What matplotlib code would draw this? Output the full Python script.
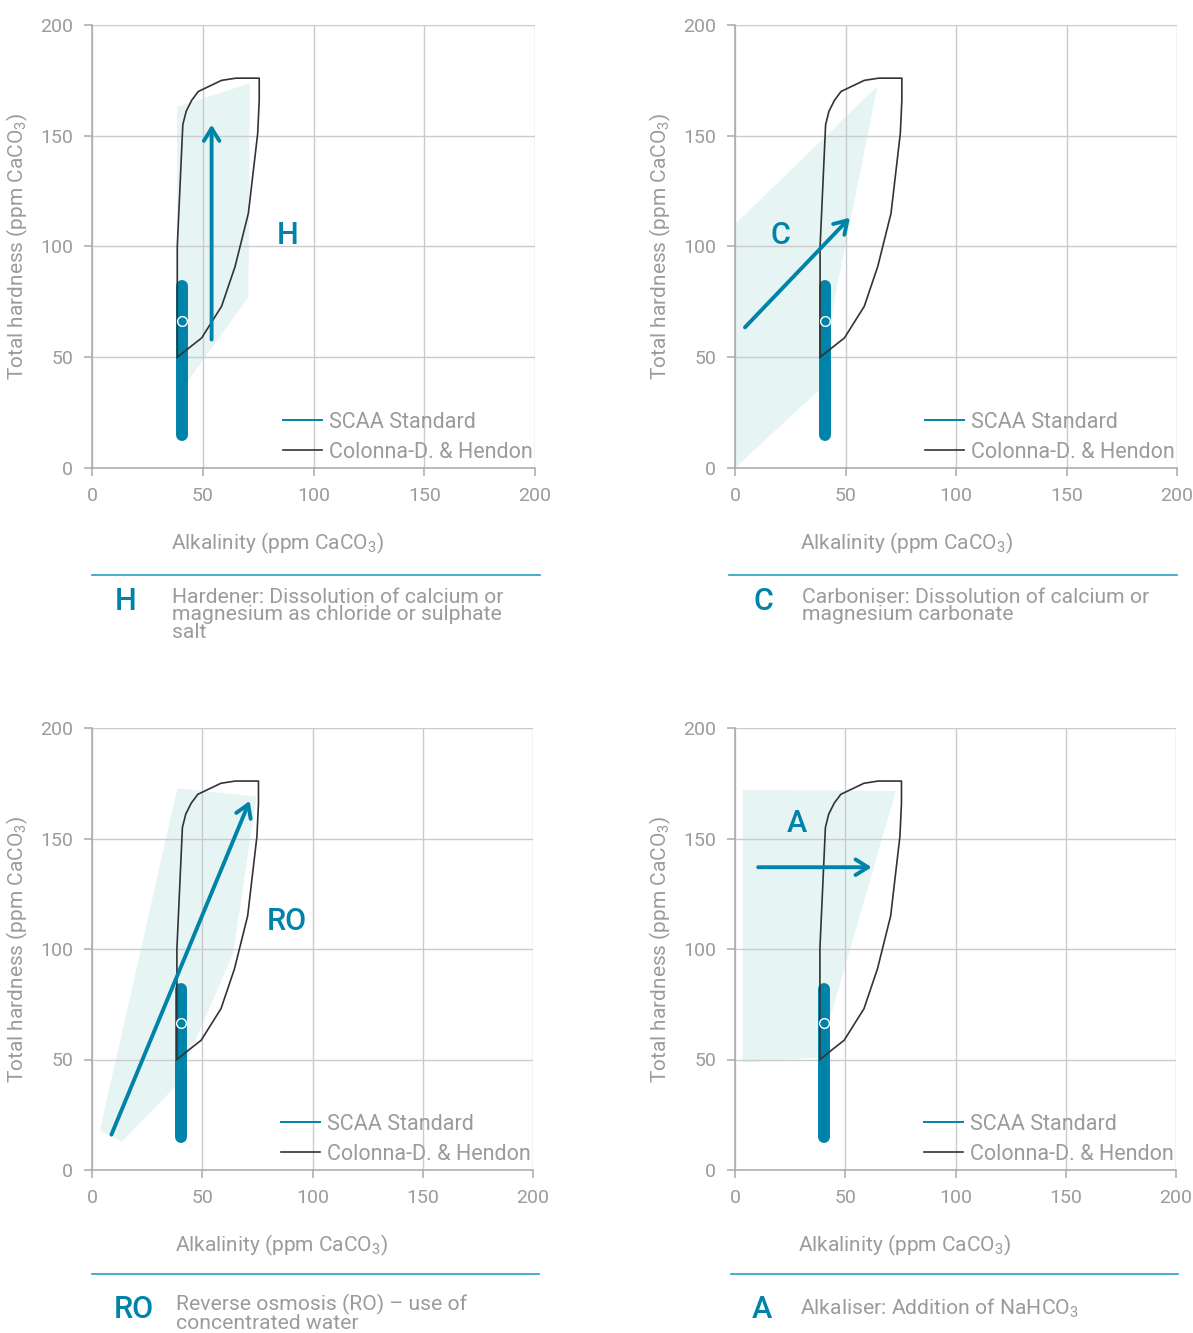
import matplotlib
matplotlib.use('Agg')
import matplotlib.pyplot as plt
from matplotlib.lines import Line2D

plt.rcParams['font.family'] = ['Roboto', 'DejaVu Sans']
plt.rcParams['mathtext.default'] = 'regular'

# colours
teal = '#0083a8'
shade = '#e7f4f4'
grid_col = '#cbcbcf'
spine_col = '#a9a9ad'
text_col = '#9b9b9b'
rule_col = '#26a0c2'

# ---- data (ppm CaCO3) ----
# Colonna-Dallacco & Hendon zone, same in every panel
outline_x = [38.5, 38.5, 41, 42.5, 45, 48, 58.5, 65, 75.5, 75.5, 74.8, 70.6, 64.6, 58.5, 49.5, 43.5, 38.5]
outline_y = [50, 100, 155, 161, 166, 170, 175, 176, 176, 166, 151, 115, 91, 73, 58.7, 54, 50]

# SCAA standard bar + target point
scaa_x = [40.5, 40.5]
scaa_y = [15, 82]
target_x = [40.5]
target_y = [66.5]

letters = ['H', 'C', 'RO', 'A']
descriptions = [
    'Hardener: Dissolution of calcium or\nmagnesium as chloride or sulphate\nsalt',
    'Carboniser: Dissolution of calcium or\nmagnesium carbonate',
    'Reverse osmosis (RO) \u2013 use of\nconcentrated water',
    'Alkaliser: Addition of NaHCO$_3$',
]

shade_x = [
    [38.4, 71.3, 70.6, 43.5, 38.4],
    [0, 0, 64.5, 45, 40],
    [3.6, 38.7, 74.7, 64, 38, 13.5],
    [3.5, 3.5, 73, 38],
]
shade_y = [
    [163, 173.7, 77, 39.7, 40],
    [0, 110, 172.5, 76, 37],
    [18, 172.7, 169, 98, 38, 12.8],
    [48.5, 172, 171.5, 51],
]

arrow_tail = [(54, 58), (4.5, 63.5), (8.8, 16), (10.5, 137)]
arrow_tip = [(54, 155), (52, 113), (71.5, 167), (62, 137)]
letter_pos = [(88.5, 105), (20.5, 105), (88.5, 112.5), (28, 157)]

ticks = [0, 50, 100, 150, 200]

# ---- layout in pixels ----
W, H = 1193, 1333
axes_px = [(92, 25, 535, 468), (735, 25, 1177, 468),
           (92, 728, 533, 1170), (735, 728, 1176, 1170)]
xlabel_x = [0.418, 0.389, 0.43, 0.385]
rule_px = [(92, 540, 575), (729, 1177, 575), (92, 539, 1274), (731, 1178, 1274)]
big_letter_px = [(126, 601), (763, 601), (134, 1310), (762, 1310)]
desc_px = [(172, 597), (802, 597), (176, 1303), (800, 1306)]

fig = plt.figure(figsize=(W / 100, H / 100), dpi=100)

for i in range(4):
    l, t, r, b = axes_px[i]
    ax = fig.add_axes([l / W, 1 - b / H, (r - l) / W, (b - t) / H])
    ax.set_xlim(0, 200)
    ax.set_ylim(0, 200)
    ax.set_xticks(ticks)
    ax.set_yticks(ticks)
    ax.set_axisbelow(True)
    ax.grid(True, color=grid_col, lw=1.0)
    for s in ['top', 'right']:
        ax.spines[s].set_visible(False)
    for s in ['left', 'bottom']:
        ax.spines[s].set_color(spine_col)
        ax.spines[s].set_linewidth(1.1)
    ax.tick_params(length=5.5, width=1.1, color=spine_col, labelcolor=text_col,
                   labelsize=14, pad=8)

    ax.set_xlabel('Alkalinity (ppm CaCO$_3$)', fontsize=15, color=text_col)
    ax.xaxis.set_label_coords(xlabel_x[i], -0.142)
    ax.set_ylabel('Total hardness (ppm CaCO$_3$)', fontsize=15, color=text_col)
    ax.yaxis.set_label_coords(-0.14, 0.5)

    ax.fill(shade_x[i], shade_y[i], color=shade, lw=0, zorder=0.3)
    ax.plot(scaa_x, scaa_y, color=teal, lw=8.6, solid_capstyle='round', zorder=2)
    ax.plot(outline_x, outline_y, color='#333333', lw=1.2, zorder=3)
    ax.plot(target_x, target_y, 'o', ms=7, mfc='none', mec='white', mew=1.0, zorder=4)
    ax.annotate('', xy=arrow_tip[i], xytext=arrow_tail[i],
                arrowprops=dict(arrowstyle='->, head_length=0.45, head_width=0.28',
                                color=teal, lw=2.8, shrinkA=0, shrinkB=0,
                                mutation_scale=20),
                zorder=5)
    ax.text(letter_pos[i][0], letter_pos[i][1], letters[i], color=teal, fontsize=22,
            fontweight='medium', ha='center', va='center', zorder=6)

    handles = [Line2D([], [], color=teal, lw=1.4),
               Line2D([], [], color='#333333', lw=1.2)]
    ax.legend(handles, ['SCAA Standard', 'Colonna-D. & Hendon'], loc='lower right',
              bbox_to_anchor=(0.995, 0.012), frameon=False, fontsize=15.5,
              labelcolor=text_col, handlelength=1.8, handletextpad=0.35,
              labelspacing=0.42, borderpad=0, borderaxespad=0)

    # caption block under each chart
    x0, x1, yr = rule_px[i]
    fig.add_artist(Line2D([x0 / W, x1 / W], [1 - yr / H, 1 - yr / H], color=rule_col, lw=1.2))
    lx, ly = big_letter_px[i]
    fig.text(lx / W, 1 - ly / H, letters[i], color=teal, fontsize=22,
             fontweight='medium', ha='center', va='center')
    dx, dy = desc_px[i]
    fig.text(dx / W, 1 - (dy - 9) / H, descriptions[i], color=text_col, fontsize=15.2,
             ha='left', va='top', linespacing=0.9)

fig.savefig('out.png', dpi=100)
